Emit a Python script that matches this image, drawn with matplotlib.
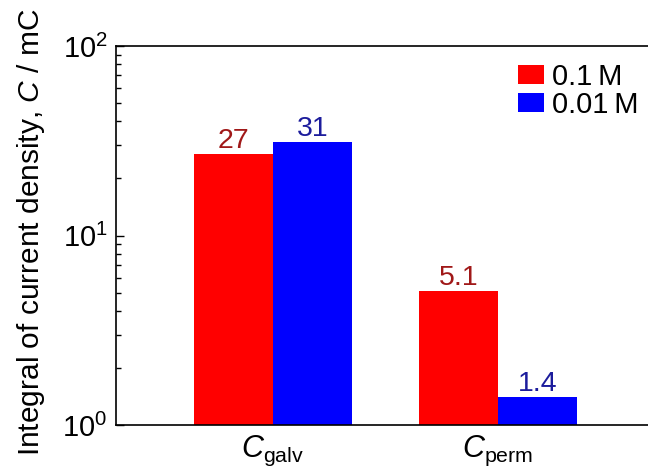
import matplotlib
matplotlib.use("Agg")
import matplotlib.pyplot as plt
import numpy as np

plt.rcParams['font.family'] = 'Liberation Sans'
plt.rcParams['mathtext.fontset'] = 'custom'
plt.rcParams['mathtext.rm'] = 'Liberation Sans'
plt.rcParams['mathtext.it'] = 'Liberation Sans:italic'
plt.rcParams['mathtext.default'] = 'regular'

groups = [r'$\it{C}_{\rm galv}$', r'$\it{C}_{\rm perm}$']
conc = ['0.1\u2009M', '0.01\u2009M']
c_01 = [27, 5.1]
c_001 = [31, 1.4]
labels_01 = ['27', '5.1']
labels_001 = ['31', '1.4']

fig = plt.figure(figsize=(6.48, 4.74), dpi=100)
ax = fig.add_axes([116/648, 1-425/474, (700-116)/648, 379/474])

x = np.arange(len(groups))
w = 0.352
b1 = ax.bar(x - w/2, c_01, w, color='#ff0000', label=conc[0])
b2 = ax.bar(x + w/2, c_001, w, color='#0000ff', label=conc[1])

# value labels just above each bar
for bars, texts, col in [(b1, labels_01, '#a01818'), (b2, labels_001, '#1c1c9c')]:
    for rect, t in zip(bars, texts):
        ax.annotate(t, (rect.get_x() + rect.get_width()/2, rect.get_height()),
                    xytext=(0, 0), textcoords='offset points',
                    ha='center', va='bottom', fontsize=20.5, color=col)

ax.set_yscale('log')
ax.set_ylim(1, 100)
ax.set_xlim(-0.698, 1.898)
ax.set_xticks(x)
ax.set_xticklabels(groups, fontsize=22)
ax.tick_params(axis='x', length=0, pad=6)
ax.tick_params(axis='y', which='major', direction='in', length=6, width=1, labelsize=21, pad=6)
ax.tick_params(axis='y', which='minor', direction='in', length=3.5, width=1)
ax.spines['right'].set_visible(False)
for s in ['left', 'top', 'bottom']:
    ax.spines[s].set_linewidth(1.2)

fig.text(31/648, 1-456/474, r'Integral of current density, $\it{C}$ / mC',
         rotation=90, ha='center', va='bottom', fontsize=21.5)

leg = ax.legend(loc='upper right', bbox_to_anchor=(639/648, 1-63/474),
                bbox_transform=fig.transFigure, frameon=False, fontsize=21,
                handlelength=0.9, handleheight=0.6, handletextpad=0.3,
                labelspacing=0.0, borderaxespad=0, borderpad=0)

fig.savefig('out.png', dpi=100)
